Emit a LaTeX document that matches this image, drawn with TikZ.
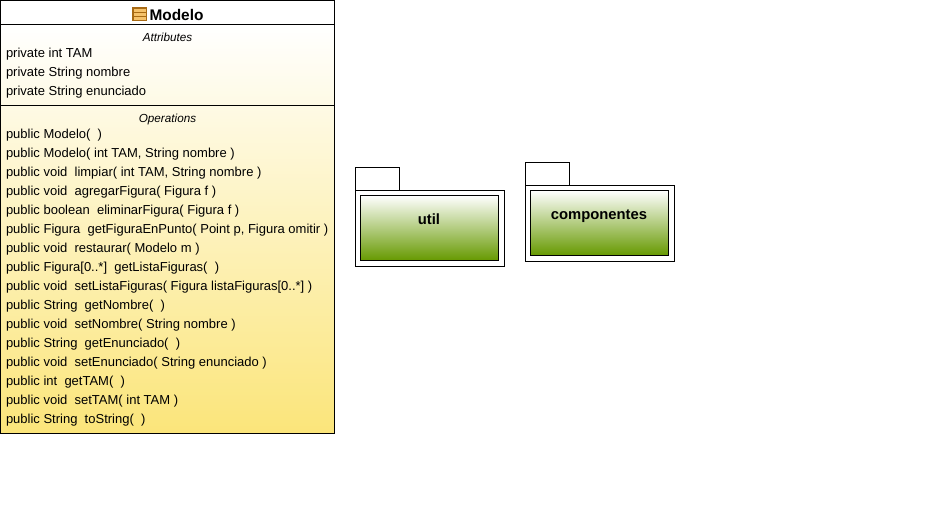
\documentclass[tikz,border=0pt]{standalone}
\usepackage{fontspec}
\setmainfont{Liberation Sans}
\usetikzlibrary{positioning}
\definecolor{classbot}{HTML}{FBE57A}
\definecolor{pkgbot}{HTML}{669900}
\definecolor{iconfill}{HTML}{F5C26B}
\definecolor{iconline}{HTML}{A86A14}
\tikzstyle{member} = [anchor=base west,inner sep=0pt,font=\fontsize{13}{13}\selectfont]
\tikzstyle{heading} = [anchor=base,inner sep=0pt,font=\fontsize{11.7}{12}\selectfont\itshape]
\tikzstyle{title} = [anchor=base,inner sep=0pt,font=\fontsize{15.4}{16}\selectfont\bfseries]
\tikzstyle{pkgname} = [anchor=base,inner sep=0pt,font=\fontsize{14.8}{15}\selectfont\bfseries]
\tikzstyle{pkgface} = [draw=black,top color=white,bottom color=pkgbot]
\begin{document}
\begin{tikzpicture}[x=1pt,y=-1pt,line width=1pt]
    \useasboundingbox (0,0) rectangle (944,525);

    % class box
    \shade [top color=white,bottom color=classbot] (0.5,24.5) rectangle (334.5,433.5);
    \draw (0.5,0.5) rectangle (334.5,433.5);
    \draw (0.5,24.5) -- (334.5,24.5);
    \draw (0.5,105.5) -- (334.5,105.5);

    % icon
    \draw [draw=iconline,fill=iconfill,line width=1.4pt] (133,8) rectangle (146.5,20.5);
    \foreach \y in {12,16}
      \draw [draw=iconline] (133,\y.5) -- (146.5,\y.5);

    \node [title] (modelo) at (176.5,20) {Modelo};
    \node [heading] (attrs) at (167.5,41) {Attributes};
    \node [heading] (opers) at (167.5,122) {Operations};

    \foreach \txt [count=\i] in {
      private int TAM,
      private String nombre,
      private String enunciado}
      \node [member] (attr\i) at (5.5,{38.5+19*\i}) {\txt};

    \foreach \txt [count=\i] in {
      public Modelo(~~),
      {public Modelo( int TAM, String nombre )},
      {public void~~limpiar( int TAM, String nombre )},
      public void~~agregarFigura( Figura f ),
      public boolean~~eliminarFigura( Figura f ),
      {public Figura~~getFiguraEnPunto( Point p, Figura omitir )},
      public void~~restaurar( Modelo m ),
      public Figura[0..*]~~getListaFiguras(~~),
      public void~~setListaFiguras( Figura listaFiguras[0..*] ),
      public String~~getNombre(~~),
      public void~~setNombre( String nombre ),
      public String~~getEnunciado(~~),
      public void~~setEnunciado( String enunciado ),
      public int~~getTAM(~~),
      public void~~setTAM( int TAM ),
      public String~~toString(~~)}
      \node [member] (oper\i) at (5.5,{119.5+19*\i}) {\txt};

    % package util
    \draw (355.5,190.5) -- (355.5,167.5) -- (399.5,167.5) -- (399.5,190.5);
    \draw (355.5,190.5) rectangle (504.5,266.5);
    \path [pkgface] (360.5,195.5) rectangle (498.5,260.5);
    \node [pkgname] (util) at (429,224) {util};

    % package componentes
    \draw (525.5,185.5) -- (525.5,162.5) -- (569.5,162.5) -- (569.5,185.5);
    \draw (525.5,185.5) rectangle (674.5,261.5);
    \path [pkgface] (530.5,190.5) rectangle (668.5,255.5);
    \node [pkgname] (componentes) at (599,219) {componentes};
  \end{tikzpicture}
\end{document}
